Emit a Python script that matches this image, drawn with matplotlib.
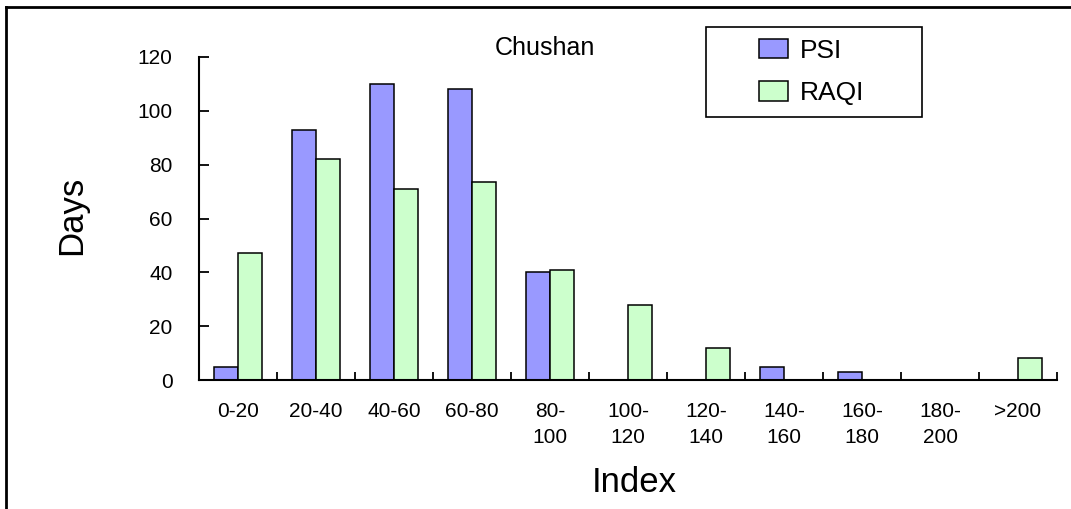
import matplotlib
matplotlib.use("Agg")
import matplotlib.pyplot as plt
import numpy as np
from matplotlib.patches import Rectangle, Patch
from matplotlib.lines import Line2D

plt.rcParams['font.family'] = ['Liberation Sans', 'DejaVu Sans']

categories = ["0-20", "20-40", "40-60", "60-80", "80-\n100", "100-\n120",
              "120-\n140", "140-\n160", "160-\n180", "180-\n200", ">200"]
psi = [5, 93, 110, 108, 40, 0, 0, 5, 3, 0, 0]
raqi = [47, 82, 71, 73.5, 41, 28, 12, 0, 0, 0, 8]
series_names = ["PSI", "RAQI"]
yticks = [0, 20, 40, 60, 80, 100, 120]

W, H = 1071, 509
fig = plt.figure(figsize=(W / 100, H / 100), dpi=100)
ax = fig.add_axes([199 / W, 1 - 380 / H, (1057 - 199) / W, (380 - 57) / H])

x = np.arange(len(categories))
bw = 0.31
edge = dict(edgecolor="black", linewidth=1.1)
ax.bar(x - bw / 2, psi, bw, color="#9999FF", **edge)
ax.bar(x + bw / 2, raqi, bw, color="#CCFFCC", **edge)

ax.set_xlim(-0.5, len(categories) - 0.5)
ax.set_ylim(0, 120)
ax.set_yticks(yticks)
ax.tick_params(axis="y", direction="in", length=7, width=1.3, pad=19, labelsize=15)

# tick marks at category boundaries, labels at category centres
ax.set_xticks(np.arange(len(categories) + 1) - 0.5)
ax.set_xticklabels([])
ax.tick_params(axis="x", which="major", direction="in", length=6, width=1.3)
ax.set_xticks(x, minor=True)
ax.set_xticklabels(categories, minor=True, fontsize=15, linespacing=1.45, va="top")
ax.tick_params(axis="x", which="minor", length=0, pad=16)

for s in ["top", "right"]:
    ax.spines[s].set_visible(False)
for s in ["left", "bottom"]:
    ax.spines[s].set_linewidth(1.5)

fig.text(634 / W, 1 - 482 / H, "Index", fontsize=25, ha="center", va="center")
fig.text(72 / W, 1 - 215 / H, "Days", fontsize=25, ha="center", va="center", rotation=90)
fig.text(545 / W, 1 - 48 / H, "Chushan", fontsize=18, ha="center", va="center")

# legend with a square frame
fig.patches.append(Rectangle((706 / W, 1 - 117 / H), (922 - 706) / W, 90 / H,
                             transform=fig.transFigure, fill=False,
                             edgecolor="black", linewidth=1.2))
handles = [Patch(facecolor="#9999FF", edgecolor="black", linewidth=1.1),
           Patch(facecolor="#CCFFCC", edgecolor="black", linewidth=1.1)]
fig.legend(handles, series_names, loc="center", bbox_to_anchor=(812 / W, 1 - 72 / H),
           frameon=False, fontsize=19, handlelength=1.1, handleheight=0.75,
           handletextpad=0.45, labelspacing=0.7, borderpad=0)

# outer frame
fig.lines.append(Line2D([6 / W, 1], [1 - 7 / H, 1 - 7 / H], transform=fig.transFigure,
                        color="black", linewidth=2))
fig.lines.append(Line2D([6 / W, 6 / W], [0, 1 - 7 / H], transform=fig.transFigure,
                        color="black", linewidth=2))

fig.savefig("out.png", dpi=100)
